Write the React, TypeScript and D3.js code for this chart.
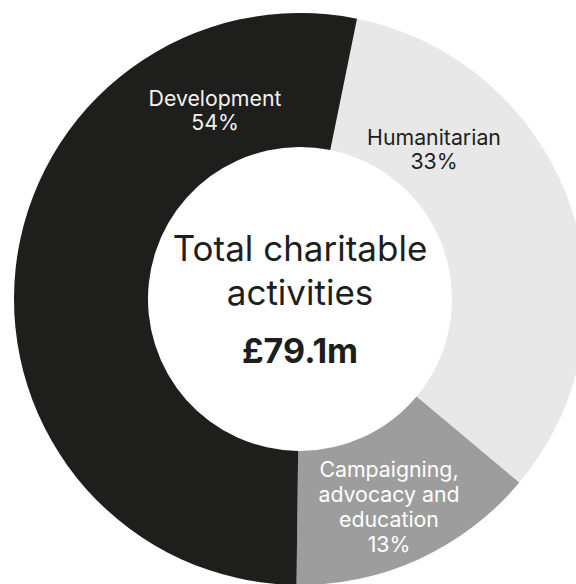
import React from "react";
import * as d3 from "d3";

const categories = ["Development", "Humanitarian", "Campaigning, advocacy and education"];
const shares = [53.0, 32.9, 14.1];
const percentLabels = ["54%", "33%", "13%"];
const labelLines = [["Development"], ["Humanitarian"], ["Campaigning,", "advocacy and", "education"]];
const colors = ["#1e1e1c", "#e8e8e8", "#9d9d9d"];
const textColors = ["#f2f2f2", "#1e1e1c", "#ffffff"];
const centerLines = ["Total charitable", "activities"];
const totalLabel = "£79.1m";

const W = 576;
const H = 584;
const cx = 300;
const cy = 299;
const outerR = 286;
const innerR = 152;
const startDeg = 11.5;

// label anchor positions relative to centre (for first line baseline)
const labelPos = [
  { dx: -85, dy: -193 },
  { dx: 134, dy: -154 },
  { dx: 89, dy: 178 },
];

export default function App() {
  const order = [1, 2, 0];
  const data = order.map((i) => ({ i, v: shares[i] }));
  const pie = d3
    .pie<any>()
    .sort(null)
    .value((d) => d.v)
    .startAngle((startDeg * Math.PI) / 180)
    .endAngle((startDeg * Math.PI) / 180 + 2 * Math.PI);
  const arcs = pie(data);
  const arc = d3.arc<any>().innerRadius(innerR).outerRadius(outerR);
  const font = "Inter, 'Noto Sans', sans-serif";

  return (
    <svg
      width={W}
      height={H}
      style={{ position: "absolute", left: 0, top: 0, background: "#fff" }}
    >
      <g transform={`translate(${cx},${cy})`}>
        {arcs.map((a: any) => (
          <path key={a.data.i} d={arc(a) as string} fill={colors[a.data.i]} />
        ))}
        {categories.map((c, i) => {
          const lines = [...labelLines[i], percentLabels[i]];
          const lh = i === 2 ? 25 : 24;
          return (
            <text
              key={c}
              x={labelPos[i].dx}
              y={labelPos[i].dy}
              textAnchor="middle"
              fontFamily={font}
              fontSize={21.3}
              fill={textColors[i]}
            >
              {lines.map((l, k) => (
                <tspan key={k} x={labelPos[i].dx} dy={k === 0 ? 0 : lh}>
                  {l}
                </tspan>
              ))}
            </text>
          );
        })}
        <text textAnchor="middle" fontFamily={font} fontSize={35} fill="#1e1e1c">
          {centerLines.map((l, k) => (
            <tspan key={k} x={0} y={-38 + k * 44}>
              {l}
            </tspan>
          ))}
        </text>
        <text
          textAnchor="middle"
          x={0}
          y={64}
          fontFamily={font}
          fontSize={34}
          fontWeight={700}
          fill="#1e1e1c"
        >
          {totalLabel}
        </text>
      </g>
    </svg>
  );
}
